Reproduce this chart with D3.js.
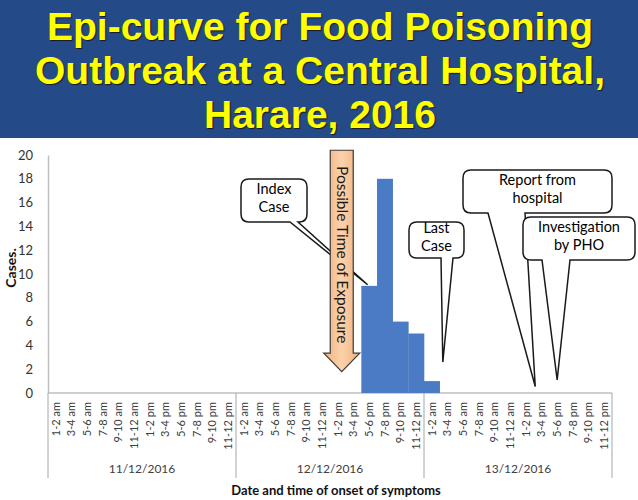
<!DOCTYPE html>
<html>
<head>
<meta charset="utf-8">
<script src="https://cdn.jsdelivr.net/npm/d3@7"></script>
<style>
  body { margin: 0; background: #fff; }
  svg { display: block; }
</style>
</head>
<body>
<svg id="chart" width="638" height="500"></svg>
<script>
// chart values
const titleLines = ["Epi-curve for Food Poisoning", "Outbreak at a Central Hospital,", "Harare, 2016"];
const days = ["11/12/2016", "12/12/2016", "13/12/2016"];
const times = ["1-2 am", "3-4 am", "5-6 am", "7-8 am", "9-10 am", "11-12 am",
               "1-2 pm", "3-4 pm", "5-6 pm", "7-8 pm", "9-10 pm", "11-12 pm"];
const cases = [
  0, 0, 0, 0, 0, 0, 0, 0, 0, 0, 0, 0,
  0, 0, 0, 0, 0, 0, 0, 0, 9, 18, 6, 5,
  1, 0, 0, 0, 0, 0, 0, 0, 0, 0, 0, 0
];
const yTicks = [0, 2, 4, 6, 8, 10, 12, 14, 16, 18, 20];

// callouts: tip given as slot index (fractional) and case value
const callouts = [
  {lines: ["Index", "Case"], tipSlot: 20.4, tipValue: 9.1},
  {lines: ["Last", "Case"], tipSlot: 25.2, tipValue: 2.6},
  {lines: ["Report from", "hospital"], tipSlot: 31.1, tipValue: 0.55},
  {lines: ["Investigation", "by PHO"], tipSlot: 32.5, tipValue: 1.1}
];
const exposure = {label: "Possible Time of Exposure", slot: 18.75, top: 20.4, headStart: 3.35, tip: 1.8};

const svg = d3.select("#chart");
const mLeft = 48, mRight = 612, mTop = 155, mBottom = 393;

const slots = [];
days.forEach(d => times.forEach(t => slots.push(d + "|" + t)));
const data = slots.map((s, i) => ({key: s, day: s.split("|")[0], time: s.split("|")[1], value: cases[i]}));

const x = d3.scaleBand().domain(slots).range([mLeft, mRight]).padding(0);
const y = d3.scaleLinear().domain([0, 20]).range([mBottom, mTop]);
const slotX = s => mLeft + s * x.bandwidth();

// title banner
svg.append("rect").attr("x", 0).attr("y", 0).attr("width", 638).attr("height", 138).attr("fill", "#254a88");
svg.append("g").selectAll("text").data(titleLines).enter().append("text")
  .attr("x", 320)
  .attr("y", (d, i) => 40 + i * 44)
  .attr("text-anchor", "middle")
  .attr("font-family", "Liberation Sans, Arial, sans-serif")
  .attr("font-weight", "bold")
  .attr("font-size", 39)
  .attr("fill", "#ffff00")
  .style("text-shadow", "1px 1px 1px #1a1a1a")
  .text(d => d);

// y axis
const yAxis = svg.append("g")
  .attr("transform", "translate(" + mLeft + ",0)")
  .call(d3.axisLeft(y).tickValues(yTicks).tickSize(0).tickPadding(15));
yAxis.select(".domain").attr("stroke", "#bfbfbf").attr("stroke-width", 1.5);
yAxis.selectAll("text")
  .attr("font-family", "Lato, sans-serif")
  .attr("font-size", 13)
  .attr("fill", "#333");

svg.append("text")
  .attr("transform", "translate(16,268) rotate(-90)")
  .attr("text-anchor", "middle")
  .attr("font-family", "Lato, sans-serif")
  .attr("font-weight", "bold")
  .attr("font-size", 14)
  .attr("fill", "#111")
  .text("Cases.");

// x axis
const xAxis = svg.append("g")
  .attr("transform", "translate(0," + mBottom + ")")
  .call(d3.axisBottom(x).tickSize(0).tickFormat(d => d.split("|")[1]));
xAxis.select(".domain").remove();
xAxis.selectAll("text")
  .attr("font-family", "Lato, sans-serif")
  .attr("font-size", 11)
  .attr("fill", "#404040")
  .attr("text-anchor", "end")
  .attr("transform", "rotate(-90)")
  .attr("x", -9)
  .attr("y", 0)
  .attr("dy", "0.35em");

svg.append("line")
  .attr("x1", mLeft).attr("x2", mRight).attr("y1", mBottom).attr("y2", mBottom)
  .attr("stroke", "#bfbfbf").attr("stroke-width", 1.5);

// day group separators and labels
const dayEdges = days.map(d => x(d + "|" + times[0])).concat([mRight]);
svg.append("g").selectAll("line").data(dayEdges).enter().append("line")
  .attr("x1", d => d).attr("x2", d => d)
  .attr("y1", mBottom).attr("y2", 478)
  .attr("stroke", "#a6a6a6").attr("stroke-width", 1);
svg.append("g").selectAll("text").data(days).enter().append("text")
  .attr("x", (d, i) => (dayEdges[i] + dayEdges[i + 1]) / 2)
  .attr("y", 473)
  .attr("text-anchor", "middle")
  .attr("font-family", "Lato, sans-serif")
  .attr("font-size", 12)
  .attr("fill", "#404040")
  .text(d => d);

svg.append("text")
  .attr("x", 336).attr("y", 495)
  .attr("text-anchor", "middle")
  .attr("font-family", "Lato, sans-serif")
  .attr("font-weight", "bold")
  .attr("font-size", 13)
  .attr("fill", "#111")
  .text("Date and time of onset of symptoms");

// callout shapes
function calloutPath(b) {
  const r = 8;
  return "M" + (b.x0 + r) + "," + b.y0 +
    "H" + (b.x1 - r) + "Q" + b.x1 + "," + b.y0 + " " + b.x1 + "," + (b.y0 + r) +
    "V" + (b.y1 - r) + "Q" + b.x1 + "," + b.y1 + " " + (b.x1 - r) + "," + b.y1 +
    "H" + b.bB + "L" + b.tx + "," + b.ty + "L" + b.bA + "," + b.y1 +
    "H" + (b.x0 + r) + "Q" + b.x0 + "," + b.y1 + " " + b.x0 + "," + (b.y1 - r) +
    "V" + (b.y0 + r) + "Q" + b.x0 + "," + b.y0 + " " + (b.x0 + r) + "," + b.y0 + "Z";
}
const boxes = [
  {x0: 241, y0: 179, x1: 307, y1: 222, bA: 290, bB: 298},
  {x0: 409, y0: 222, x1: 464, y1: 258, bA: 441, bB: 453},
  {x0: 463, y0: 170, x1: 612, y1: 213, bA: 488, bB: 525},
  {x0: 523, y0: 217, x1: 635, y1: 260, bA: 542, bB: 570}
];

function drawCallout(i) {
  const c = callouts[i];
  const b = Object.assign({}, boxes[i], {
    tx: slotX(c.tipSlot), ty: y(c.tipValue)
  });
  const g = svg.append("g");
  g.append("path").attr("d", calloutPath(b))
    .attr("fill", "#fff").attr("stroke", "#1a1a1a").attr("stroke-width", 1.5);
  g.selectAll("text").data(c.lines).enter().append("text")
    .attr("x", (b.x0 + b.x1) / 2)
    .attr("y", (d, j) => (b.y0 + b.y1) / 2 - 3 + (j - 0.5) * 18 + 5)
    .attr("text-anchor", "middle")
    .attr("font-family", "Lato, sans-serif")
    .attr("font-size", 14.5)
    .attr("fill", "#000")
    .text(d => d);
}

// bars
svg.append("g").selectAll("rect").data(data.filter(d => d.value > 0)).enter().append("rect")
  .attr("x", d => x(d.key))
  .attr("y", d => y(d.value))
  .attr("width", x.bandwidth() + 0.3)
  .attr("height", d => mBottom - y(d.value))
  .attr("fill", "#4a7bc4");

drawCallout(0);

// exposure arrow
const defs = svg.append("defs");
const grad = defs.append("linearGradient").attr("id", "peach").attr("x1", 0).attr("x2", 1).attr("y1", 0).attr("y2", 0);
grad.append("stop").attr("offset", "0%").attr("stop-color", "#f3b07c");
grad.append("stop").attr("offset", "50%").attr("stop-color", "#fbd2ac");
grad.append("stop").attr("offset", "100%").attr("stop-color", "#f3b07c");

const ax = slotX(exposure.slot);
const sw = 11.5, hw = 18;
const arrowPts = [
  [ax - sw, y(exposure.top)], [ax + sw, y(exposure.top)],
  [ax + sw, y(exposure.headStart)], [ax + hw, y(exposure.headStart)],
  [ax, y(exposure.tip)], [ax - hw, y(exposure.headStart)],
  [ax - sw, y(exposure.headStart)]
];
svg.append("path")
  .attr("d", d3.line()(arrowPts) + "Z")
  .attr("fill", "url(#peach)")
  .attr("stroke", "#3a3a3a")
  .attr("stroke-width", 1.2);
svg.append("text")
  .attr("transform", "translate(" + (ax - 5) + "," + ((y(exposure.top) + y(exposure.headStart)) / 2 + 3) + ") rotate(90)")
  .attr("text-anchor", "middle")
  .attr("font-family", "Lato, sans-serif")
  .attr("font-size", 15.5)
  .attr("fill", "#1a1a1a")
  .text(exposure.label);

drawCallout(1);
drawCallout(2);
drawCallout(3);
</script>
</body>
</html>
